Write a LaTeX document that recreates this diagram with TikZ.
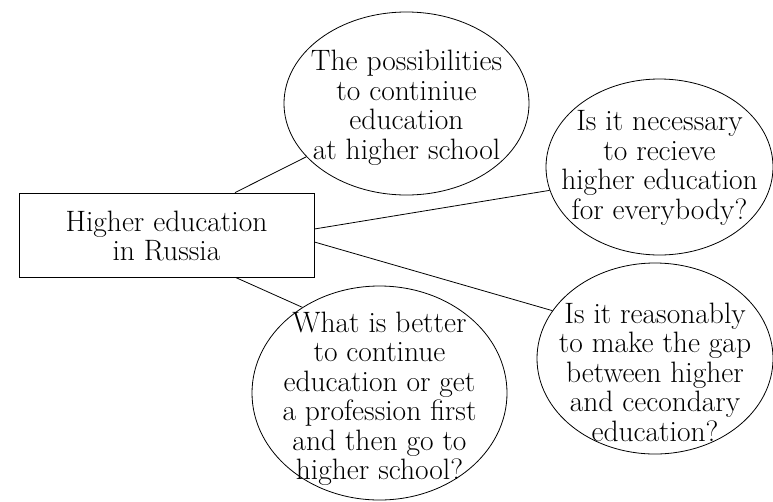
\documentclass[tikz,border=0pt]{standalone}
\usetikzlibrary{shapes.geometric,calc}
\begin{document}
\begin{tikzpicture}[x=1pt,y=-1pt,
  ell/.style={draw,ellipse,line width=0.8pt,inner sep=0pt},
  txt/.style={align=center,inner sep=0pt,font=\fontsize{29.5}{29.5}\selectfont},
  box/.style={draw,rectangle,line width=0.8pt,inner sep=0pt,minimum width=295pt,minimum height=84pt},
  link/.style={line width=0.8pt}]
\useasboundingbox (0,0) rectangle (773,501);
\node[box] (r) at (166.5,235) {};
\node[txt] (rt) at (166.5,236) {Higher education\\in Russia};
\node[ell,minimum width=245pt,minimum height=183pt] (e1) at (406.5,103.5) {};
\node[txt] (t1) at (406.5,108) {The possibilities\\to continiue\\education\\at higher school};
\node[ell,minimum width=227pt,minimum height=176pt] (e2) at (659.5,167) {};
\node[txt] (t2) at (659.5,168) {Is it necessary\\to recieve\\higher education\\for everybody?};
\node[ell,minimum width=236pt,minimum height=191pt] (e3) at (655,358.5) {};
\node[txt] (t3) at (655,372) {Is it reasonably\\to make the gap\\between higher\\and cecondary\\education?};
\node[ell,minimum width=255pt,minimum height=214pt] (e4) at (379.5,393) {};
\node[txt] (t4) at (379.5,399) {What is better\\to continue\\education or get\\a profession first\\and then go to\\higher school?};
\draw[link] ($(r.north)+(68.5,0)$) -- (e1.208.7);
\draw[link] ($(r.east)+(0,-6)$) -- (e2.192);
\draw[link] ($(r.east)+(0,7)$) -- (e3.155);
\draw[link] ($(r.south)+(69,0)$) -- (e4.132);
\end{tikzpicture}
\end{document}
